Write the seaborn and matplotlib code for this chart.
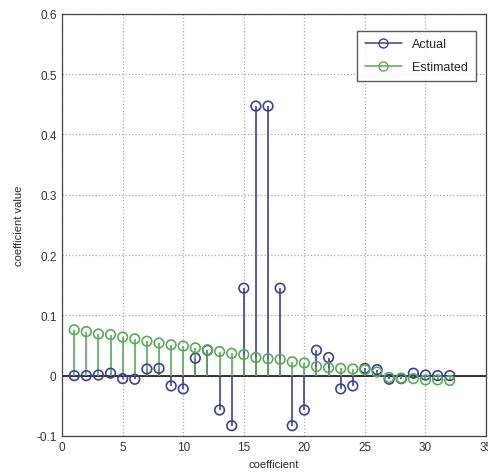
import numpy as np
import pandas as pd
import matplotlib
matplotlib.use("Agg")
import matplotlib.pyplot as plt
import seaborn as sns
from matplotlib.lines import Line2D

coef_idx = list(range(1, 33))
actual = [0.0, 0.0, 0.001, 0.004, -0.005, -0.006, 0.011, 0.012, -0.017, -0.022,
          0.029, 0.042, -0.057, -0.083, 0.145, 0.447, 0.447, 0.145, -0.083, -0.057,
          0.042, 0.030, -0.022, -0.017, 0.012, 0.010, -0.006, -0.005, 0.004, 0.001,
          0.0, 0.0]
estimated = [0.076, 0.073, 0.069, 0.068, 0.064, 0.061, 0.057, 0.054, 0.051, 0.049,
             0.046, 0.043, 0.040, 0.037, 0.035, 0.030, 0.028, 0.027, 0.023, 0.021,
             0.015, 0.013, 0.012, 0.011, 0.010, 0.006, -0.003, -0.004, -0.005, -0.007,
             -0.007, -0.008]
series_names = ["Actual", "Estimated"]
x_ticks = [0, 5, 10, 15, 20, 25, 30, 35]
y_ticks = [-0.1, 0, 0.1, 0.2, 0.3, 0.4, 0.5, 0.6]

blue = "#40409a"
green = "#5aaa5a"

df = pd.DataFrame({
    "coefficient": coef_idx * 2,
    "value": actual + estimated,
    "series": [series_names[0]] * 32 + [series_names[1]] * 32,
})

sns.set_style("white")
plt.rcParams["font.family"] = ["Liberation Sans", "DejaVu Sans"]

fig = plt.figure(figsize=(4.89, 4.77), dpi=100)
ax = fig.add_axes([0.127, 0.084, 0.867, 0.885])

for name, col in zip(series_names, [blue, green]):
    sub = df[df["series"] == name]
    ax.vlines(sub["coefficient"], 0, sub["value"], color=col, linewidth=1.2, zorder=2)

sns.scatterplot(data=df, x="coefficient", y="value", hue="series",
                palette={series_names[0]: blue, series_names[1]: green},
                marker="o", s=48, linewidth=1.2,
                legend=False, ax=ax, zorder=3)
for coll in ax.collections:
    if hasattr(coll, "get_offsets") and len(coll.get_offsets()) == 64:
        ec = coll.get_facecolors()
        coll.set_edgecolors(ec)
        coll.set_facecolors("none")

ax.axhline(0, color="black", linewidth=1.1, zorder=1)

ax.set_xlim(0, 35)
ax.set_ylim(-0.1, 0.6)
ax.set_xticks(x_ticks)
ax.set_yticks(y_ticks)
ax.set_xticklabels([str(t) for t in x_ticks])
ax.set_yticklabels(["-0.1", "0", "0.1", "0.2", "0.3", "0.4", "0.5", "0.6"])
ax.tick_params(direction="in", length=3, labelsize=8.5, colors="#333333", pad=4)
ax.grid(True, linestyle=":", color="#aaaaaa", linewidth=0.9)
for s in ax.spines.values():
    s.set_color("#444444")
    s.set_linewidth(0.9)

ax.set_xlabel("coefficient", fontsize=8, labelpad=4)
ax.set_ylabel("coefficient value", fontsize=8, labelpad=9)

handles = [Line2D([0], [0], color=blue, marker="o", markerfacecolor="none", markersize=6.5, lw=1.1),
           Line2D([0], [0], color=green, marker="o", markerfacecolor="none", markersize=6.5, lw=1.1)]
leg = ax.legend(handles, series_names, loc="upper right", bbox_to_anchor=(0.99, 0.975),
                fontsize=9, frameon=True, fancybox=False, edgecolor="#333333",
                handlelength=3.0, borderpad=0.6, labelspacing=0.9, handletextpad=0.8)
leg.get_frame().set_linewidth(1.0)

fig.savefig("out.png", dpi=100, facecolor="white")
